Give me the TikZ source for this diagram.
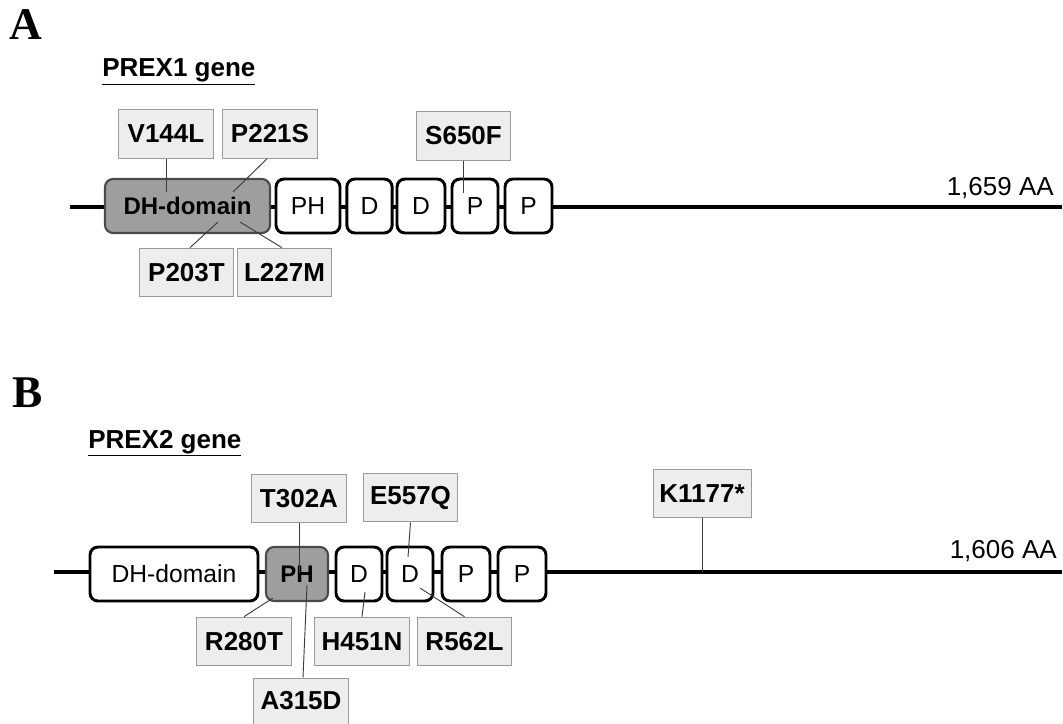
\documentclass[tikz,border=0pt]{standalone}
\usepackage{fontspec}
\setmainfont{Liberation Sans}
\newfontfamily\serifbold{Liberation Serif}
\definecolor{domgray}{HTML}{9E9E9E}
\definecolor{domedge}{HTML}{4A4A4A}
\definecolor{mutfill}{HTML}{EDEDED}
\definecolor{mutedge}{HTML}{9A9A9A}
\definecolor{connc}{HTML}{3C3C3C}
\tikzset{
  dom/.style={draw=black, line width=2.2pt, rounded corners=6pt, fill=white,
    inner sep=0pt, minimum height=40.5pt, font=\fontsize{18.5}{20}\selectfont},
  domg/.style={dom, draw=domedge, line width=1.6pt, fill=domgray,
    font=\fontsize{18}{20}\selectfont\bfseries},
  mut/.style={draw=mutedge, line width=0.7pt, fill=mutfill, inner sep=0pt,
    minimum width=71pt, minimum height=36.5pt,
    font=\fontsize{19.5}{21}\selectfont\bfseries},
  conn/.style={draw=connc, line width=0.7pt},
  backbone/.style={draw=black, line width=2.6pt},
  panel/.style={inner sep=0pt, font=\fontsize{34}{36}\selectfont\serifbold\bfseries},
  gene/.style={inner sep=0pt, anchor=base west, font=\fontsize{19.5}{21}\selectfont\bfseries},
  len/.style={inner sep=0pt, anchor=base east, font=\fontsize{19.5}{21}\selectfont},
}
\begin{document}
\begin{tikzpicture}[x=0.75pt,y=-0.75pt]
\useasboundingbox (0,0) rectangle (1063,724);

% ---------------- Panel A ----------------
\node[panel] (labA) at (26,25) {A};
\node[gene] (geneA) at (102,77) {\underline{PREX1 gene}};

\coordinate (bbAs) at (70,207);
\coordinate (bbAe) at (1062,207);
\draw[backbone] (bbAs) -- (bbAe);

\node[domg, minimum width=123.75pt] (DH1) at (187.5,206) {DH-domain};
\node[dom, minimum width=48pt] (PH1) at (308,206) {PH};
\node[dom, minimum width=34pt] (D1a) at (369.5,206) {D};
\node[dom, minimum width=36pt] (D1b) at (421,206) {D};
\node[dom, minimum width=34.5pt] (P1a) at (475,206) {P};
\node[dom, minimum width=35.25pt] (P1b) at (528.5,206) {P};

\node[len] (lenA) at (1054,195) {1,659 AA};

\node[mut] (V144L) at (166,134) {V144L};
\node[mut] (P221S) at (270,134) {P221S};
\node[mut] (S650F) at (463.5,136) {S650F};
\node[mut] (P203T) at (186.5,272.5) {P203T};
\node[mut] (L227M) at (284.5,272.5) {L227M};

\coordinate (eV144L) at (166,192);
\coordinate (eP221S) at (233,192);
\coordinate (eS650F) at (463.5,193);
\coordinate (eP203T) at (218,222);
\coordinate (eL227M) at (240,222);

\draw[conn] (V144L.south) -- (eV144L);
\draw[conn] ([xshift=-2.25pt]P221S.south) -- (eP221S);
\draw[conn] (S650F.south) -- (eS650F);
\draw[conn] ([xshift=2.6pt]P203T.north) -- (eP203T);
\draw[conn] ([xshift=-1.9pt]L227M.north) -- (eL227M);

% ---------------- Panel B ----------------
\node[panel] (labB) at (28,392.5) {B};
\node[gene] (geneB) at (88,448) {\underline{PREX2 gene}};

\coordinate (bbBs) at (54,572);
\coordinate (bbBe) at (1062,572);
\draw[backbone] (bbBs) -- (bbBe);

\node[dom, minimum width=126pt] (DH2) at (174,574) {DH-domain};
\node[domg, minimum width=46.5pt] (PH2) at (297,574) {PH};
\node[dom, minimum width=34.5pt] (D2a) at (359,574) {D};
\node[dom, minimum width=34.5pt] (D2b) at (410,574) {D};
\node[dom, minimum width=36pt] (P2a) at (466,574) {P};
\node[dom, minimum width=36pt] (P2b) at (522,574) {P};

\node[len] (lenB) at (1057,558) {1,606 AA};

\node[mut] (T302A) at (299,498.5) {T302A};
\node[mut] (E557Q) at (410.5,497.5) {E557Q};
\node[mut] (R280T) at (244,641.5) {R280T};
\node[mut] (H451N) at (362,641.5) {H451N};
\node[mut] (R562L) at (464.5,641.5) {R562L};
\node[mut, minimum height=34.5pt] (A315D) at (301,701) {A315D};
\node[mut, minimum width=73.5pt] (K1177) at (702,493.5) {K1177*};

\coordinate (eT302A) at (299,573);
\coordinate (eE557Q) at (408,557);
\coordinate (eR280T) at (273,598);
\coordinate (eA315D) at (307,585);
\coordinate (eH451N) at (365,592);
\coordinate (eR562L) at (420,588);
\coordinate (eK1177) at (702,572);

\draw[conn] (T302A.south) -- (eT302A);
\draw[conn] (E557Q.south) -- (eE557Q);
\draw[conn] (R280T.north) -- (eR280T);
\draw[conn] ([xshift=1.5pt]A315D.north) -- (eA315D);
\draw[conn] (H451N.north) -- (eH451N);
\draw[conn] (R562L.north) -- (eR562L);
\draw[conn] (K1177.south) -- (eK1177);
\end{tikzpicture}
\end{document}
